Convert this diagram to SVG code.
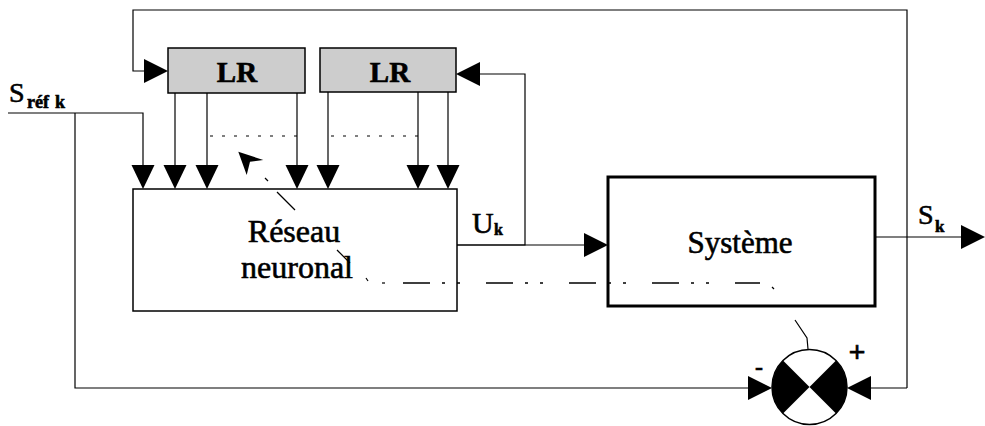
<svg xmlns="http://www.w3.org/2000/svg" width="985" height="426" viewBox="0 0 985 426">
<style>
.ln{fill:none;stroke:#000;stroke-width:1.2}
.box{fill:#fff;stroke:#000;stroke-width:1.5}
.lr{fill:#cdcdcd;stroke:#000;stroke-width:1.5}
.sys{fill:#fff;stroke:#000;stroke-width:3}
.dot{fill:none;stroke:#000;stroke-width:1.2;stroke-dasharray:3 9}
.dd{fill:none;stroke:#000;stroke-width:1.5;stroke-dasharray:27 12 3 12 3 26}
.t{font-family:"Liberation Serif","Times New Roman",serif;fill:#000;stroke:#000;stroke-width:0.6}
.b{font-weight:bold}
</style>
<defs>
<path id="ad" d="M0,0 L-11.5,-24 L11.5,-24 Z" fill="#000"/>
<path id="ar" d="M0,0 L-24,-12 L-24,12 Z" fill="#000"/>
<path id="al" d="M0,0 L24,-12 L24,12 Z" fill="#000"/>
</defs>

<g id="connectors">
  <polyline class="ln" points="907,388 907,10 133,10 133,71 144,71"/>
  <use href="#ar" x="168" y="71"/>
  <polyline class="ln" points="457,245 525,245 525,74 480,74"/>
  <use href="#al" x="456" y="74"/>
  <line class="ln" x1="457" y1="245" x2="586" y2="245"/>
  <use href="#ar" x="608" y="245"/>
  <line class="ln" x1="875" y1="237" x2="962" y2="237"/>
  <use href="#ar" x="985" y="237"/>
  <polyline class="ln" points="8,113 143,113 143,166"/>
  <use href="#ad" x="143" y="189"/>
  <polyline class="ln" points="75,113 75,388 749,388"/>
  <use href="#ar" x="772" y="388"/>
  <line class="ln" x1="907" y1="388" x2="871" y2="388"/>
  <use href="#al" x="847" y="388"/>
  <line class="ln" x1="175" y1="93" x2="175" y2="166"/>
  <line class="ln" x1="207" y1="93" x2="207" y2="166"/>
  <line class="ln" x1="297" y1="93" x2="297" y2="166"/>
  <line class="ln" x1="328" y1="92" x2="328" y2="166"/>
  <line class="ln" x1="418" y1="92" x2="418" y2="166"/>
  <line class="ln" x1="448" y1="92" x2="448" y2="166"/>
  <line class="dot" x1="210" y1="136" x2="297" y2="136"/>
  <line class="dot" x1="331" y1="136" x2="418" y2="136"/>
  <use href="#ad" x="175" y="189"/>
  <use href="#ad" x="207" y="189"/>
  <use href="#ad" x="297" y="189"/>
  <use href="#ad" x="328" y="189"/>
  <use href="#ad" x="418" y="189"/>
  <use href="#ad" x="448" y="189"/>
</g>

<g id="lr1">
  <rect class="lr" x="168" y="48" width="137" height="45"/>
  <text class="t b" x="237" y="82" font-size="29" text-anchor="middle">LR</text>
</g>
<g id="lr2">
  <rect class="lr" x="320" y="48" width="136" height="44"/>
  <text class="t b" x="390" y="82" font-size="29" text-anchor="middle">LR</text>
</g>

<g id="reseau">
  <rect class="box" x="133" y="189" width="324" height="122"/>
  <text class="t" x="294" y="242" font-size="32" text-anchor="middle">Réseau</text>
  <text class="t" x="297" y="278" font-size="32" text-anchor="middle">neuronal</text>
</g>

<g id="systeme">
  <rect class="sys" x="608" y="177" width="267" height="129"/>
  <text class="t" x="740" y="253" font-size="31" text-anchor="middle">Système</text>
</g>

<g id="comparateur">
  <circle cx="809.5" cy="387" r="37.5" fill="#fff" stroke="#000" stroke-width="1.5"/>
  <path d="M809.5,387 L783,360.5 A37.5,37.5 0 0 0 783,413.5 Z" fill="#000"/>
  <path d="M809.5,387 L836,360.5 A37.5,37.5 0 0 1 836,413.5 Z" fill="#000"/>
  <text class="t b" x="759" y="375" font-size="24" text-anchor="middle">-</text>
  <text class="t b" x="857" y="362" font-size="30" text-anchor="middle">+</text>
</g>

<g id="adaptation">
  <polyline class="ln" points="808,349 807,338 795,320"/>
  <line class="ln" x1="772" y1="287" x2="774" y2="289"/>
  <line class="dd" x1="403" y1="283" x2="760" y2="283"/>
  <line class="ln" x1="382" y1="283" x2="385" y2="283"/>
  <line class="ln" x1="366" y1="278" x2="368" y2="281"/>
  <line class="ln" x1="337" y1="250" x2="350" y2="263"/>
  <line class="ln" x1="277" y1="192" x2="295" y2="210"/>
  <line class="ln" x1="265" y1="178" x2="268" y2="181"/>
  <path d="M238.3,151.7 L263.3,160 L250,161.7 L246.7,175 Z" fill="#000"/>
</g>

<g id="labels">
  <text class="t" x="9" y="102" font-size="28">S</text>
  <text class="t b" x="27" y="108" font-size="18">réf</text>
  <text class="t b" x="55" y="108" font-size="18">k</text>
  <text class="t" x="472" y="233" font-size="30">U</text>
  <text class="t b" x="494" y="235" font-size="16">k</text>
  <text class="t" x="918" y="224" font-size="28">S</text>
  <text class="t b" x="935" y="232" font-size="17">k</text>
</g>
</svg>
